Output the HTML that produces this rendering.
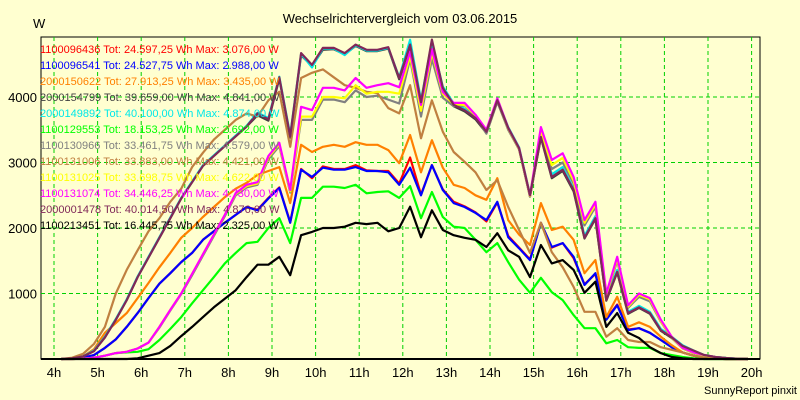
<!DOCTYPE html>
<html><head><meta charset="utf-8"><style>
html,body{margin:0;padding:0;background:#ffffd0;}
svg{display:block;font-family:"Liberation Sans",sans-serif;}
</style></head><body>
<svg id="chart" width="800" height="400">
<rect x="0" y="0" width="800" height="400" fill="#ffffd0"/>
<text x="400" y="23" text-anchor="middle" font-size="13" fill="#000">Wechselrichtervergleich vom 03.06.2015</text>
<text x="33" y="28" font-size="13" fill="#000">W</text>
<text x="797" y="394" text-anchor="end" font-size="11" fill="#000">SunnyReport pinxit</text>
<g id="grid"></g><g id="series"></g><g id="legend"></g><g id="axes"></g>
</svg>
<script>
const yTicks=[1000,2000,3000,4000];
const xTicks=[4,5,6,7,8,9,10,11,12,13,14,15,16,17,18,19,20];
const startHour=4+10/60;
const stepHour=0.25;
const names=["1100096436","1100096541","2000150622","2000154799","2000149892","1100129553","1100130966","1100131006","1100131025","1100131074","2000001478","1100213451"];
const totals=["24.597,25","24.527,75","27.913,25","39.659,00","40.100,00","18.153,25","33.461,75","33.883,00","33.698,75","34.446,25","40.014,50","16.445,75"];
const maxes=["3.076,00","2.988,00","3.435,00","4.841,00","4.874,00","2.692,00","4.579,00","4.421,00","4.622,00","4.730,00","4.876,00","2.325,00"];
const colors=["#ff0000","#0000ff","#ff8000","#404040","#00e8e8","#00ff00","#808080","#c08040","#ffff00","#ff00ff","#802858","#000000"];
const sRed=[0,5,20,60,170,300,490,700,930,1150,1310,1480,1620,1820,1950,2080,2200,2320,2280,2460,2620,2090,2900,2760,2940,2900,2900,2960,2880,2870,2870,2680,3076,2510,2960,2590,2400,2330,2240,2100,2390,1880,1700,1520,2080,1700,1770,1540,1140,1300,610,830,450,470,400,290,180,100,50,20,5,0,0,0];
const sBlue=[0,5,20,60,170,300,490,700,930,1150,1310,1480,1620,1820,1950,2080,2200,2320,2270,2450,2610,2080,2890,2780,2920,2890,2890,2930,2870,2870,2850,2660,2920,2500,2960,2580,2380,2320,2230,2120,2400,1860,1690,1510,2080,1710,1770,1560,1130,1310,600,820,440,470,400,290,180,100,50,20,5,0,0,0];
const sOrange=[0,10,40,150,400,550,700,930,1160,1400,1620,1850,2000,2170,2320,2470,2600,2690,2810,2870,2930,2380,3270,3160,3240,3270,3240,3310,3270,3270,3190,2990,3420,2850,3340,2920,2660,2610,2500,2430,2760,2120,1900,1740,2380,1970,2020,1820,1310,1510,640,950,490,560,490,340,210,100,50,20,5,0,0,0];
const sDarkGray=[0,10,40,120,330,600,900,1250,1550,1850,2150,2450,2700,2950,3100,3250,3400,3550,3720,3640,4280,3380,4640,4470,4720,4730,4650,4780,4700,4700,4740,4270,4780,3900,4841,4120,3860,3780,3660,3450,3930,3510,3200,2480,3380,2760,2870,2560,1840,2140,890,1320,690,780,690,430,320,190,120,60,30,15,5,0];
const sCyan=[0,10,40,130,340,610,910,1260,1560,1860,2160,2460,2710,2960,3110,3260,3410,3560,3760,3680,4310,3420,4660,4450,4740,4740,4640,4790,4710,4710,4750,4300,4874,3950,4840,4160,3900,3820,3700,3480,3960,3540,3230,2510,3430,2820,2930,2600,1880,2180,920,1360,720,810,720,460,340,210,130,60,30,15,5,0];
const sGreen=[0,0,5,20,50,90,100,110,150,290,460,640,850,1050,1250,1460,1620,1770,1790,2000,2150,1770,2460,2460,2630,2630,2610,2660,2530,2550,2560,2460,2640,2150,2550,2170,2020,2000,1820,1630,1770,1480,1210,1010,1240,1020,900,670,470,470,240,290,180,170,170,90,60,30,10,0,0,0,0,0];
const sGray=[0,0,5,20,50,90,110,160,250,480,740,990,1280,1580,1880,2180,2500,2620,2660,3050,3250,2540,3650,3650,3960,3960,3920,4100,4000,4020,3960,3900,4579,3700,4580,3990,3860,3870,3700,3440,3930,3500,3200,2480,3420,2900,3000,2680,2040,2320,960,1500,780,950,880,570,320,160,90,50,20,10,0,0];
const sBrown=[0,20,80,230,490,1000,1360,1660,1950,2150,2400,2600,2930,3150,3350,3500,3650,3750,3700,3950,4080,3240,4290,4370,4421,4300,4180,4140,4080,4060,3830,3750,4180,3370,3950,3470,3160,3010,2850,2580,2730,2320,1970,1620,2080,1630,1400,1100,720,720,340,470,290,260,260,180,140,100,50,20,5,0,0,0];
const sYellow=[0,0,5,20,50,90,110,160,250,490,750,1000,1300,1600,1900,2200,2520,2640,2680,3080,3280,2560,3700,3700,4000,4000,3980,4180,4050,4080,4080,4050,4622,3790,4680,4050,3890,3880,3720,3480,3960,3520,3210,2490,3480,2960,3070,2720,2080,2360,980,1530,800,980,910,580,330,165,95,55,25,10,0,0];
const sMagenta=[0,0,5,20,50,90,110,160,250,490,750,1000,1300,1600,1900,2200,2530,2660,2700,3100,3300,2580,3850,3800,4140,4140,4100,4290,4140,4180,4210,4150,4690,3880,4730,4080,3910,3910,3730,3500,3980,3530,3220,2500,3540,3040,3140,2780,2120,2400,1000,1560,820,1000,930,600,340,170,100,60,30,10,0,0];
const sPurple=[0,10,40,120,330,600,900,1250,1550,1850,2150,2450,2700,2950,3100,3250,3400,3550,3750,3660,4300,3400,4670,4490,4750,4750,4670,4800,4720,4720,4760,4290,4800,3920,4876,4140,3880,3800,3680,3470,3950,3530,3220,2500,3390,2780,2890,2580,1850,2150,900,1330,700,790,700,440,330,200,130,60,30,15,5,0];
const sBlack=[0,0,0,0,0,0,0,10,50,90,200,350,490,640,790,920,1050,1250,1440,1440,1560,1280,1890,1940,2000,2000,2020,2080,2060,2080,1950,2000,2325,1860,2270,1970,1890,1850,1820,1710,1920,1660,1560,1250,1740,1460,1510,1360,1010,1180,490,700,400,320,180,90,30,10,0,0,0,0,0,0];
const seriesValues=[sRed,sBlue,sOrange,sDarkGray,sCyan,sGreen,sGray,sBrown,sYellow,sMagenta,sPurple,sBlack];

const NS="http://www.w3.org/2000/svg";
const plot={left:41,right:760,top:37,bottom:359};
function xScale(h){return 54+(h-4)*43.6;}
function yScale(v){return plot.bottom-v*0.0655;}
function mk(tag,attrs,parent){const e=document.createElementNS(NS,tag);for(const k in attrs)e.setAttribute(k,attrs[k]);parent.appendChild(e);return e;}

const grid=document.getElementById('grid');
const axes=document.getElementById('axes');
const series=document.getElementById('series');
const legend=document.getElementById('legend');

const plotRect=mk('rect',{x:plot.left,y:plot.top,width:plot.right-plot.left,height:plot.bottom-plot.top,fill:'#ffffd0',stroke:'#000','stroke-width':1},grid);



xTicks.forEach(h=>{
  const x=xScale(h);
  const gl=mk('line',{x1:x,x2:x,y1:plot.top,y2:plot.bottom,stroke:'#00d000','stroke-width':1,'stroke-dasharray':'4,3'},grid);
  
  
  const t=mk('text',{x:x,y:377,'text-anchor':'middle','font-size':13,fill:'#000'},axes);
  t.textContent=h+'h';
  
  
});
yTicks.forEach(v=>{
  const y=yScale(v);
  const gl=mk('line',{x1:plot.left,x2:plot.right,y1:y,y2:y,stroke:'#00d000','stroke-width':1,'stroke-dasharray':'4,3'},grid);
  
  
  const t=mk('text',{x:37,y:y+5,'text-anchor':'end','font-size':13,fill:'#000'},axes);
  t.textContent=v;
  
  
});
const bl=mk('line',{x1:plot.left,x2:plot.right,y1:plot.bottom,y2:plot.bottom,stroke:'#000','stroke-width':2},axes);



names.forEach((n,i)=>{
  const t=mk('text',{x:40,y:53+i*16,'font-size':11,fill:colors[i]},legend);
  t.textContent=n+' Tot: '+totals[i]+' Wh Max: '+maxes[i]+' W';
  
  
});

seriesValues.forEach((vals,i)=>{
  const pts=vals.map((v,k)=>xScale(startHour+k*stepHour).toFixed(1)+','+yScale(v).toFixed(1)).join(' ');
  const pl=mk('polyline',{points:pts,fill:'none',stroke:colors[i],'stroke-width':2.2,'stroke-linejoin':'round'},series);
  
  
});
</script>
</body></html>
